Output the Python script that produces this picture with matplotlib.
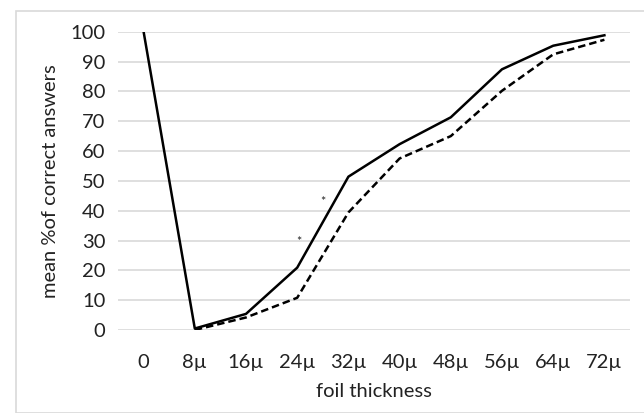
import matplotlib
matplotlib.use("Agg")
import matplotlib.pyplot as plt
from matplotlib.patches import Rectangle

categories = ["0", "8µ", "16µ", "24µ", "32µ", "40µ", "48µ", "56µ", "64µ", "72µ"]
solid_values = [100, 0.5, 5.4, 20.9, 51.4, 62.3, 71.3, 87.4, 95.3, 98.8]
dashed_values = [None, 0.0, 4.2, 10.8, 39.4, 57.5, 65.0, 80.2, 92.4, 97.3]
yticks = [0, 10, 20, 30, 40, 50, 60, 70, 80, 90, 100]
star_points = [(3.03, 29.5), (3.5, 43.0)]

plt.rcParams['font.family'] = ['Lato', 'DejaVu Sans']

fig = plt.figure(figsize=(6.44, 4.13), dpi=100)
fig.patches.append(Rectangle((16/644, 0), 1, 1 - 11/413, transform=fig.transFigure,
                             fill=False, edgecolor='#d9d9d9', linewidth=1.2))
ax = fig.add_axes([118/644, 1 - 330/413, 512/644, (330 - 31.7)/413])

x = list(range(len(categories)))
ax.plot(x, solid_values, color='black', linewidth=1.8, zorder=3)
dx = [i for i, v in zip(x, dashed_values) if v is not None]
dy = [v for v in dashed_values if v is not None]
ax.plot(dx, dy, color='black', linewidth=1.8, linestyle=(0, (3, 1.6)), zorder=3)
for sx, sy in star_points:
    ax.text(sx, sy, "*", ha='center', va='center', fontsize=9, color='#222222')

ax.set_xlim(-0.5, len(categories) - 0.5)
ax.set_ylim(0, 100)
ax.set_yticks(yticks)
ax.set_xticks(x)
ax.set_xticklabels(categories)
ax.yaxis.grid(True, color='#d9d9d9', linewidth=1.2)
ax.set_axisbelow(True)
for s in ax.spines.values():
    s.set_visible(False)
ax.tick_params(axis='both', length=0, labelsize=14.5, colors='#222222')
ax.tick_params(axis='x', pad=17)
ax.tick_params(axis='y', pad=9)
ax.set_xlabel("foil thickness", fontsize=14.5, color='#222222', labelpad=9)
ax.set_ylabel("mean %of correct answers", fontsize=14.5, color='#222222', labelpad=8)

fig.savefig("out.png", dpi=100)
